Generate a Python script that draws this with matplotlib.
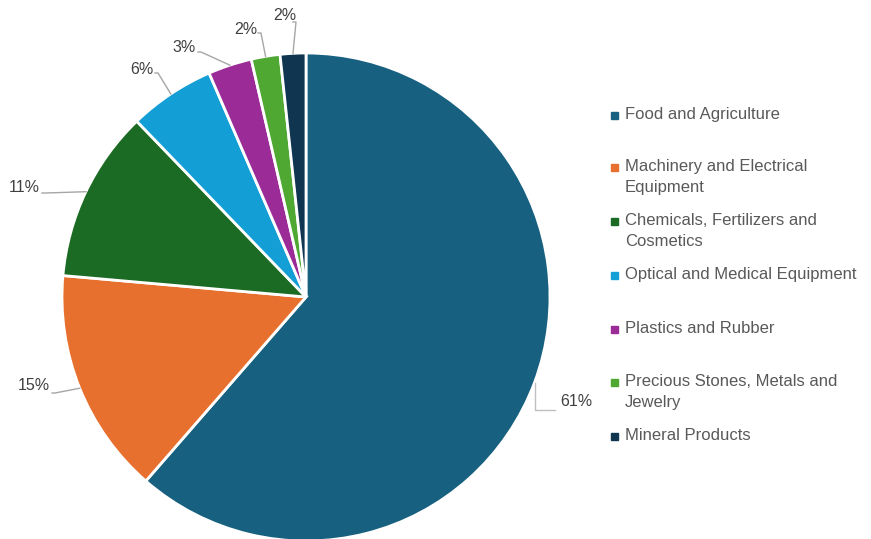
import numpy as np
import matplotlib.pyplot as plt

plt.rcParams['font.family'] = ['Liberation Sans', 'DejaVu Sans']

# data
categories = ['Food and Agriculture', 'Machinery and Electrical\nEquipment',
              'Chemicals, Fertilizers and\nCosmetics', 'Optical and Medical Equipment',
              'Plastics and Rubber', 'Precious Stones, Metals and\nJewelry',
              'Mineral Products']
shares = [61.4, 15.0, 11.4, 5.7, 2.9, 1.9, 1.7]
colors = ['#17607f', '#e8702f', '#1b6b24', '#139fd6', '#9b2b96', '#4ea832', '#0f3550']

W, H = 871, 539
fig = plt.figure(figsize=(W / 100, H / 100), dpi=100)
ax = fig.add_axes([0, 0, 1, 1])

cx, cy, r = 306, H - 297, 244
wedges, _ = ax.pie(shares, colors=colors, startangle=90, counterclock=False,
                   center=(cx, cy), radius=r, frame=True,
                   wedgeprops=dict(edgecolor='white', linewidth=2))
ax.set_xlim(0, W)
ax.set_ylim(0, H)
ax.set_aspect('equal')
ax.axis('off')

# label placement (pixel coords, top-left origin): elbow point, text point, alignment
label_pos = [
    ((545, 410), (560, 401), 'left'),
    ((52, 393), (50, 385), 'right'),
    ((42, 193), (40, 188), 'right'),
    ((155, 73), (153, 70), 'right'),
    ((198, 52), (196, 48), 'right'),
    ((258, 33), (257, 29), 'right'),
    ((293, 22), (296, 15), 'right'),
]
for w, v, (elbow, tpos, ha) in zip(wedges, shares, label_pos):
    mid = np.deg2rad((w.theta1 + w.theta2) / 2)
    px, py = cx + r * np.cos(mid), cy + r * np.sin(mid)
    ex, ey = elbow[0], H - elbow[1]
    if ha == 'left':
        ax.plot([px, px, ex + 10], [py, ey, ey], color='#bfbfbf', lw=1)
    else:
        ax.plot([px, ex + 3, ex], [py, ey, ey], color='#a6a6a6', lw=1)
    ax.text(tpos[0], H - tpos[1], f'{v:.0f}%', ha=ha, va='center',
            fontsize=11.5, color='#404040')

# legend, drawn by hand to keep the uneven row spacing
leg_y = [115, 167, 221, 275, 329, 382, 436]
for c, name, y in zip(colors, categories, leg_y):
    ax.add_patch(plt.Rectangle((611, H - y - 4), 7, 7, color=c))
    ax.text(625, H - y + 8, name, ha='left', va='top', fontsize=12,
            color='#595959', linespacing=1.5)

fig.savefig('out.png', dpi=100)
